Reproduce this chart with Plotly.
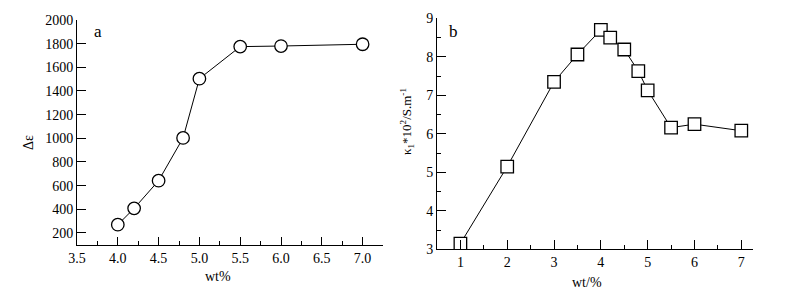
import plotly.graph_objects as go

# Panel a data
wt_a = [4.0, 4.2, 4.5, 4.8, 5.0, 5.5, 6.0, 7.0]
delta_eps = [270, 408, 642, 1003, 1504, 1775, 1780, 1795]

# Panel b data
wt_b = [1, 2, 3, 3.5, 4, 4.2, 4.5, 4.8, 5, 5.5, 6, 7]
kappa = [3.15, 5.15, 7.35, 8.06, 8.70, 8.50, 8.19, 7.63, 7.13, 6.16, 6.25, 6.08]

xticks_a = [3.5, 4.0, 4.5, 5.0, 5.5, 6.0, 6.5, 7.0]
xticklabels_a = ["3.5", "4.0", "4.5", "5.0", "5.5", "6.0", "6.5", "7.0"]
yticks_a = [200, 400, 600, 800, 1000, 1200, 1400, 1600, 1800, 2000]
xticks_b = [1, 2, 3, 4, 5, 6, 7]
yticks_b = [3, 4, 5, 6, 7, 8, 9]

FONT = "Liberation Serif, Times New Roman, serif"
W, H = 793, 304

fig = go.Figure()
fig.add_trace(go.Scatter(
    x=wt_a, y=delta_eps, mode="lines+markers", xaxis="x", yaxis="y",
    line=dict(color="black", width=1),
    marker=dict(symbol="circle", size=12.5, color="white", line=dict(color="black", width=1.3)),
    showlegend=False))
fig.add_trace(go.Scatter(
    x=wt_b, y=kappa, mode="lines+markers", xaxis="x2", yaxis="y2",
    line=dict(color="black", width=1),
    marker=dict(symbol="square", size=12.5, color="white", line=dict(color="black", width=1.3)),
    showlegend=False))

axis_common = dict(showline=True, linecolor="black", linewidth=1, ticks="inside",
                   tickcolor="black", tickwidth=1, showgrid=False, zeroline=False,
                   automargin=False,
                   tickfont=dict(family=FONT, size=14, color="black"))

fig.update_layout(
    width=W, height=H,
    margin=dict(l=0, r=0, t=0, b=0),
    paper_bgcolor="white", plot_bgcolor="white",
    font=dict(family=FONT, color="black"),
    xaxis=dict(domain=[77 / W, 383 / W], range=[3.5, 7.25], anchor="y",
               tickmode="array", tickvals=xticks_a, ticktext=xticklabels_a, ticklen=8,
               minor=dict(dtick=0.25, tick0=3.5, ticklen=4, ticks="inside", tickcolor="black"),
               **axis_common),
    yaxis=dict(domain=[1 - 244.8 / H, 1 - 20 / H], range=[100, 2000], anchor="x",
               tickmode="array", tickvals=yticks_a, ticklen=9, **axis_common),
    xaxis2=dict(domain=[437 / W, 753 / W], range=[0.5, 7.25], anchor="y2",
                tickmode="array", tickvals=xticks_b, ticklen=9,
                minor=dict(dtick=0.5, tick0=0.5, ticklen=4, ticks="inside", tickcolor="black"),
                **axis_common),
    yaxis2=dict(domain=[1 - 249.3 / H, 1 - 18.3 / H], range=[3, 9], anchor="x2",
                tickmode="array", tickvals=yticks_b, ticklen=9,
                minor=dict(dtick=0.5, tick0=3, ticklen=4, ticks="inside", tickcolor="black"),
                **axis_common),
)

def ann(text, x, y, size=14, angle=0):
    fig.add_annotation(text=text, x=x / W, y=1 - y / H, xref="paper", yref="paper",
                       showarrow=False, textangle=angle,
                       font=dict(family=FONT, size=size, color="black"),
                       xanchor="center", yanchor="middle")

ann("a", 98, 31, size=17)
ann("b", 453, 31, size=17)
ann("wt%", 218, 276)
ann("wt/%", 587, 282)
ann("Δε", 28, 143, angle=-90)
ann("κ<sub>1</sub>*10<sup>2</sup>/S.m<sup>-1</sup>", 407, 122, size=13, angle=-90)

fig.write_html("out.html", config={"displayModeBar": False},
               post_script="document.body.style.margin='0';document.body.style.overflow='hidden';")
